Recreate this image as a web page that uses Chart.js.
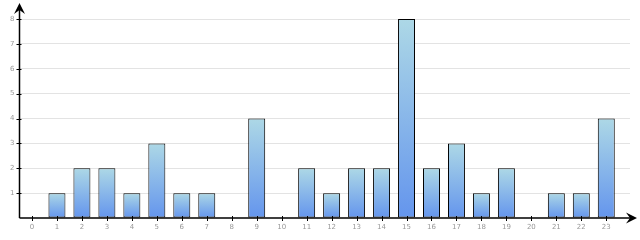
<!DOCTYPE html>
<html lang="en">
<head>
    <meta charset="UTF-8">
    <title>Hourly counts</title>
    <script src="https://cdn.jsdelivr.net/npm/chart.js"></script>
    <style>
        html, body { margin: 0; padding: 0; background: #ffffff; }
        #wrap { width: 640px; height: 240px; }
    </style>
</head>
<body>
    <div id="wrap"><canvas id="myChart"></canvas></div>
    <script>
        // values
        const hours = [ 0, 1, 2, 3, 4, 5, 6, 7, 8, 9, 10, 11, 12, 13, 14, 15, 16, 17, 18, 19, 20, 21, 22, 23 ];
        const counts = [ 0, 1, 2, 2, 1, 3, 1, 1, 0, 4, 0, 2, 1, 2, 2, 8, 2, 3, 1, 2, 0, 1, 1, 4 ];
        const yTicks = [ 0, 1, 2, 3, 4, 5, 6, 7, 8 ];

        const points = hours.map( ( h, i ) => ( { x: h, y: counts[ i ] } ) );

        // vertical gradient for each bar, light at top, blue at bottom
        const barFill = ( ctx ) => {
            const chart = ctx.chart;
            if ( !chart.chartArea || !ctx.parsed ) return '#8ab4ea';
            const yScale = chart.scales.y;
            const top = yScale.getPixelForValue( ctx.parsed.y );
            const bottom = yScale.getPixelForValue( 0 );
            if ( bottom - top < 1 ) return '#6495ed';
            const g = chart.ctx.createLinearGradient( 0, top, 0, bottom );
            g.addColorStop( 0, '#add8e6' );
            g.addColorStop( 1, '#6495ed' );
            return g;
        };

        // axis lines with arrow heads, plus the small tick marks
        const axisArrows = {
            id: 'axisArrows',
            afterDraw( chart ) {
                const c = chart.ctx;
                const xs = chart.scales.x;
                const ys = chart.scales.y;
                const x0 = xs.getPixelForValue( -0.5 );
                const y0 = ys.getPixelForValue( 0 );
                c.save();
                c.strokeStyle = '#000';
                c.fillStyle = '#000';
                c.lineWidth = 1.5;
                c.beginPath();
                c.moveTo( x0, y0 );
                c.lineTo( x0, 6 );
                c.moveTo( x0, y0 );
                c.lineTo( 634, y0 );
                c.stroke();
                c.lineWidth = 1;
                c.beginPath();
                for ( const h of hours ) {
                    const px = Math.round( xs.getPixelForValue( h ) ) + 0.5;
                    c.moveTo( px, y0 - 2 );
                    c.lineTo( px, y0 + 3 );
                }
                for ( const v of yTicks ) {
                    if ( v === 0 ) continue;
                    const py = Math.round( ys.getPixelForValue( v ) ) + 0.5;
                    c.moveTo( x0 - 3, py );
                    c.lineTo( x0 + 2, py );
                }
                c.stroke();
                // y arrow
                c.beginPath();
                c.moveTo( x0, 3 );
                c.lineTo( x0 + 5.5, 14 );
                c.lineTo( x0, 10 );
                c.lineTo( x0 - 5.5, 14 );
                c.closePath();
                c.fill();
                // x arrow
                c.beginPath();
                c.moveTo( 637, y0 );
                c.lineTo( 626, y0 - 5.5 );
                c.lineTo( 630, y0 );
                c.lineTo( 626, y0 + 5.5 );
                c.closePath();
                c.fill();
                c.restore();
            }
        };

        const ctx = document.getElementById( 'myChart' ).getContext( '2d' );
        const myChart = new Chart( ctx, {
            type: 'bar',
            data: {
                datasets: [ {
                    data: points,
                    backgroundColor: barFill,
                    borderColor: '#000000',
                    borderWidth: 1,
                    borderSkipped: false,
                    barPercentage: 0.68,
                    categoryPercentage: 1
                } ]
            },
            options: {
                responsive: true,
                maintainAspectRatio: false,
                animation: false,
                layout: { padding: { top: 19, right: 10, left: 0, bottom: 0 } },
                plugins: {
                    legend: { display: false },
                    tooltip: { enabled: false }
                },
                scales: {
                    x: {
                        type: 'linear',
                        offset: false,
                        min: -0.5,
                        max: 23.95,
                        afterBuildTicks: s => { s.ticks = hours.map( v => ( { value: v } ) ); },
                        afterFit: s => { s.height = 22; s.paddingLeft = 0; s.paddingRight = 0; },
                        border: { display: false },
                        grid: { display: false, offset: false },
                        ticks: {
                            autoSkip: false,
                            maxRotation: 0,
                            padding: -3,
                            color: '#999999',
                            font: { family: 'DejaVu Sans', size: 7 }
                        }
                    },
                    y: {
                        min: 0,
                        max: 8,
                        afterBuildTicks: s => { s.ticks = yTicks.map( v => ( { value: v } ) ); },
                        afterFit: s => { s.width = 19.5; },
                        border: { display: false },
                        grid: {
                            color: ( c ) => c.tick && c.tick.value === 0 ? 'rgba(0,0,0,0)' : '#e3e3e3',
                            drawTicks: false,
                            lineWidth: 1
                        },
                        ticks: {
                            padding: 5,
                            color: '#999999',
                            font: { family: 'DejaVu Sans', size: 7 },
                            callback: v => v === 0 ? '' : v
                        }
                    }
                }
            },
            plugins: [ axisArrows ]
        } );
    </script>
</body>
</html>
